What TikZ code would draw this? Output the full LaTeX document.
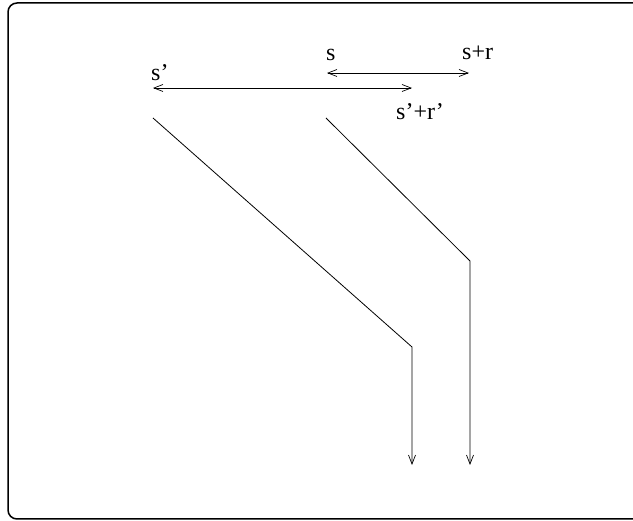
\documentclass[tikz,border=0pt]{standalone}
\usepackage{fontspec}
\setmainfont{Liberation Serif}
\usetikzlibrary{arrows.meta}
\begin{document}
\begin{tikzpicture}[x=1pt,y=-1pt,
  lbl/.style={inner sep=0pt,anchor=base west,font=\fontsize{24}{28}\selectfont},
  ln/.style={line width=0.8pt},
  tip/.style={-{Straight Barb[length=9pt,width=7pt,line width=0.7pt]}},
  dtip/.style={{Straight Barb[length=9pt,width=7pt,line width=0.7pt]}-{Straight Barb[length=9pt,width=7pt,line width=0.7pt]}}]
\useasboundingbox (0,0) rectangle (633,521);
\draw[line width=1.5pt,rounded corners=9pt] (8,3) rectangle (645,519);
% labels
\node[lbl] (ls) at (326,61) {s};
\node[lbl] (lsr) at (462,60) {s+r};
\node[lbl] (lsp) at (151,81) {s'};
\node[lbl] (lspr) at (396,120) {s'+r'};
% measure arrows
\coordinate (a1) at (327,73);
\coordinate (b1) at (469,73);
\coordinate (a2) at (153,88);
\coordinate (b2) at (412,88);
\draw[ln,dtip] (a1) -- (b1);
\draw[ln,dtip] (a2) -- (b2);
% paths
\coordinate (p1) at (153,118);
\coordinate (q1) at (412,347);
\coordinate (r1) at (412,465);
\coordinate (p2) at (326,118);
\coordinate (q2) at (470,261);
\coordinate (r2) at (470,465);
\draw[ln,tip] (p1) -- (q1) -- (r1);
\draw[ln,tip] (p2) -- (q2) -- (r2);
\end{tikzpicture}
\end{document}
